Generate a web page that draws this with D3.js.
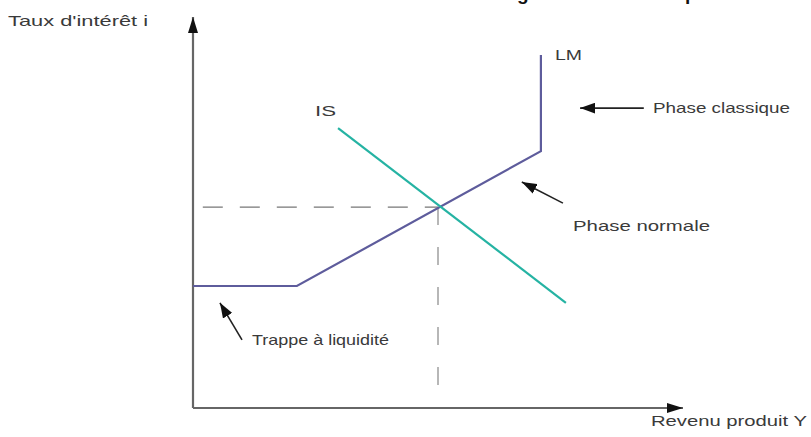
<!DOCTYPE html>
<html>
<head>
<meta charset="utf-8">
<script src="https://cdn.jsdelivr.net/npm/d3@7/dist/d3.min.js"></script>
<style>
	body { margin: 0; background: #fff; }
	svg { display: block; }
	text { font-family: "Liberation Sans", Arial, sans-serif; fill: #3a3a3a; }
</style>
</head>
<body>
<svg id="chart"></svg>
<script>
// values (abstract units 0-100 on both axes)
const lmRevenu = [0, 21.2, 71, 71];
const lmTaux = [31.2, 31.2, 65.7, 90.3];
const isRevenu = [29.6, 76.1];
const isTaux = [71.6, 26.9];
const equilibre = [50, 51.4]; // Y*, i*

const axisLabels = ["Revenu produit Y", "Taux d'intérêt i"];
const curveLabels = ["LM", "IS"];
const phaseLabels = ["Phase classique", "Phase normale", "Trappe à liquidité"];
// arrows pointing at the phases: [tailY, tailI, tipY, tipI]
const phaseArrows = [
	[92.0, 76.7, 79.0, 76.7],
	[75.5, 52.4, 67.1, 57.8],
	[10.0, 17.4, 5.5, 26.9],
];
const titre = "Schéma IS-LM : vision générale des trois phases";

const width = 811;
const height = 437;

const svg = d3.select("#chart").attr("width", width).attr("height", height);

const x = d3.scaleLinear().domain([0, 100]).range([193, 683]);
const y = d3.scaleLinear().domain([0, 100]).range([408, 17]);

const defs = svg.append("defs");
//arrowhead for axes
defs.append("marker")
	.attr("id", "axisHead")
	.attr("viewBox", "0 0 16 10")
	.attr("refX", 16)
	.attr("refY", 5)
	.attr("markerUnits", "userSpaceOnUse")
	.attr("markerWidth", 16)
	.attr("markerHeight", 11)
	.attr("orient", "auto")
	.append("path")
	.attr("d", "M0,0L16,5L0,10Z")
	.attr("fill", "#111");
//arrowhead for the annotations
defs.append("marker")
	.attr("id", "noteHead")
	.attr("viewBox", "0 0 14 10")
	.attr("refX", 14)
	.attr("refY", 5)
	.attr("markerUnits", "userSpaceOnUse")
	.attr("markerWidth", 15)
	.attr("markerHeight", 11)
	.attr("orient", "auto")
	.append("path")
	.attr("d", "M0,0L14,5L0,10Z")
	.attr("fill", "#111");

// title cut at the top of the picture, only the descenders show
const title = svg.append("text")
	.attr("x", 0)
	.attr("y", 0)
	.style("font-weight", "bold")
	.style("font-size", "24px")
	.style("fill", "#111")
	.text(titre);
{
	const node = title.node();
	const gi = titre.indexOf("g");
	const pi = titre.lastIndexOf("p");
	const eg = node.getExtentOfChar(gi);
	const ep = node.getExtentOfChar(pi);
	const gx = eg.x + eg.width / 2;
	const px = ep.x + ep.width * 0.15;
	const k = (687 - 523) / (px - gx);
	const size = 24 * k;
	title.style("font-size", size + "px").attr("x", 523 - gx * k).attr("y", -size * 0.22 + 4);
}

const line = d3.line()
	.x((d) => x(d[0]))
	.y((d) => y(d[1]));

//guides to the equilibrium
svg.append("path")
	.attr("d", line([[2, equilibre[1]], equilibre]))
	.attr("fill", "none")
	.attr("stroke", "#777")
	.attr("stroke-width", 1.2)
	.attr("stroke-dasharray", "20,17");
svg.append("path")
	.attr("d", line([equilibre, [equilibre[0], 0]]))
	.attr("fill", "none")
	.attr("stroke", "#888")
	.attr("stroke-width", 1.2)
	.attr("stroke-dasharray", "18,22");

//axes
svg.append("path")
	.attr("d", line([[0, 0], [100, 0]]))
	.attr("stroke", "#666")
	.attr("stroke-width", 2.2)
	.attr("marker-end", "url(#axisHead)");
svg.append("path")
	.attr("d", line([[0, 0], [0, 100]]))
	.attr("stroke", "#666")
	.attr("stroke-width", 2.2)
	.attr("marker-end", "url(#axisHead)");

//curves
svg.append("path")
	.attr("d", line(lmRevenu.map((d, i) => [d, lmTaux[i]])))
	.attr("fill", "none")
	.attr("stroke", "#5e5c9c")
	.attr("stroke-width", 2.2);
svg.append("path")
	.attr("d", line(isRevenu.map((d, i) => [d, isTaux[i]])))
	.attr("fill", "none")
	.attr("stroke", "#25b3a3")
	.attr("stroke-width", 2.2);

//annotation arrows
svg.selectAll(".note")
	.data(phaseArrows)
	.enter()
	.append("path")
	.attr("class", "note")
	.attr("d", (d) => line([[d[0], d[1]], [d[2], d[3]]]))
	.attr("stroke", "#222")
	.attr("stroke-width", 1.6)
	.attr("marker-end", "url(#noteHead)");

//texts, stretched horizontally like the picture
function label(txt, px, py, len, size) {
	svg.append("text")
		.attr("x", px)
		.attr("y", py)
		.attr("textLength", len)
		.attr("lengthAdjust", "spacingAndGlyphs")
		.style("font-size", size + "px")
		.text(txt);
}
label(axisLabels[1], 8, 26, 140, 15);
label(axisLabels[0], 651, 426, 156, 15);
label(curveLabels[0], 555, 60, 27, 14);
label(curveLabels[1], 315, 116, 21, 14);
label(phaseLabels[0], 653, 113, 137, 15);
label(phaseLabels[1], 573, 231, 137, 15);
label(phaseLabels[2], 252, 345, 137, 15);
</script>
</body>
</html>
